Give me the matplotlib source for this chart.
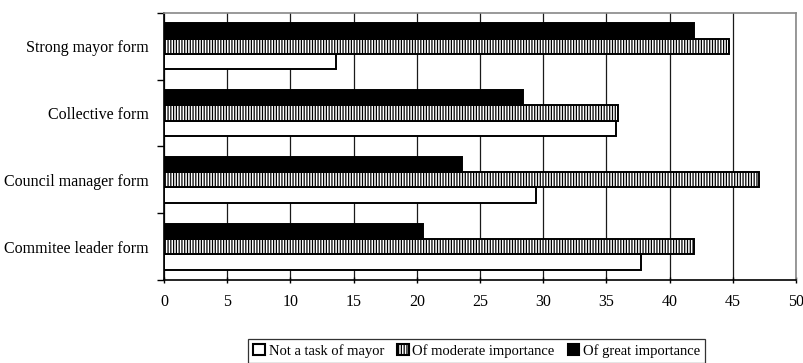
import numpy as np
import matplotlib.pyplot as plt
from matplotlib.patches import Patch

plt.rcParams['font.family'] = ['Liberation Serif', 'DejaVu Serif']
plt.rcParams['hatch.linewidth'] = 0.9

categories = ["Commitee leader form", "Council manager form",
              "Collective form", "Strong mayor form"]
not_task = [37.7, 29.4, 35.8, 13.6]
moderate = [41.9, 47.1, 35.9, 44.7]
great = [20.5, 23.6, 28.4, 41.9]
series_names = ["Not a task of mayor", "Of moderate importance", "Of great importance"]

fig = plt.figure(figsize=(8.04, 3.63), dpi=100)
ax = fig.add_axes([0.204, 0.229, 0.786, 0.735])

y = np.arange(len(categories))
h = 0.23
kw = dict(height=h, edgecolor='black', linewidth=1.4, zorder=3)
ax.barh(y - h, not_task, color='white', **kw)
ax.barh(y, moderate, color='white', hatch='||||||', **kw)
ax.barh(y + h, great, color='black', **kw)

ax.set_xlim(0, 50)
ax.set_ylim(-0.5, len(categories) - 0.5)
ax.set_xticks(np.arange(0, 51, 5))
ax.xaxis.grid(True, color='#1a1a1a', linewidth=0.9, zorder=0)

# tick marks sit on the category boundaries, labels in the middle
ax.set_yticks(np.arange(-0.5, len(categories), 1.0))
ax.set_yticklabels([])
ax.set_yticks(y, minor=True)
ax.set_yticklabels(categories, minor=True)
ax.tick_params(axis='y', which='minor', length=0, pad=11, labelsize=11.5)
ax.tick_params(axis='y', which='major', length=5, width=1, direction='out')
ax.tick_params(axis='x', length=5, width=1, direction='inout', pad=8, labelsize=11.5)

for side in ('top', 'right'):
    ax.spines[side].set_color('#888888')
    ax.spines[side].set_linewidth(1.2)
for side in ('left', 'bottom'):
    ax.spines[side].set_color('black')
    ax.spines[side].set_linewidth(1.2)

handles = [Patch(facecolor='white', edgecolor='black', linewidth=1.5),
           Patch(facecolor='white', edgecolor='black', linewidth=1.5, hatch='||||||'),
           Patch(facecolor='black', edgecolor='black', linewidth=1.5)]
leg = fig.legend(handles, series_names, loc='upper center',
                 bbox_to_anchor=(0.593, 0.066), borderaxespad=0, ncol=3,
                 fontsize=10.5, frameon=True, fancybox=False,
                 handlelength=0.8, handleheight=0.8, handletextpad=0.25,
                 columnspacing=0.9, borderpad=0.35)
leg.get_frame().set_edgecolor('black')
leg.get_frame().set_linewidth(0.9)

fig.savefig('out.png', dpi=100)
